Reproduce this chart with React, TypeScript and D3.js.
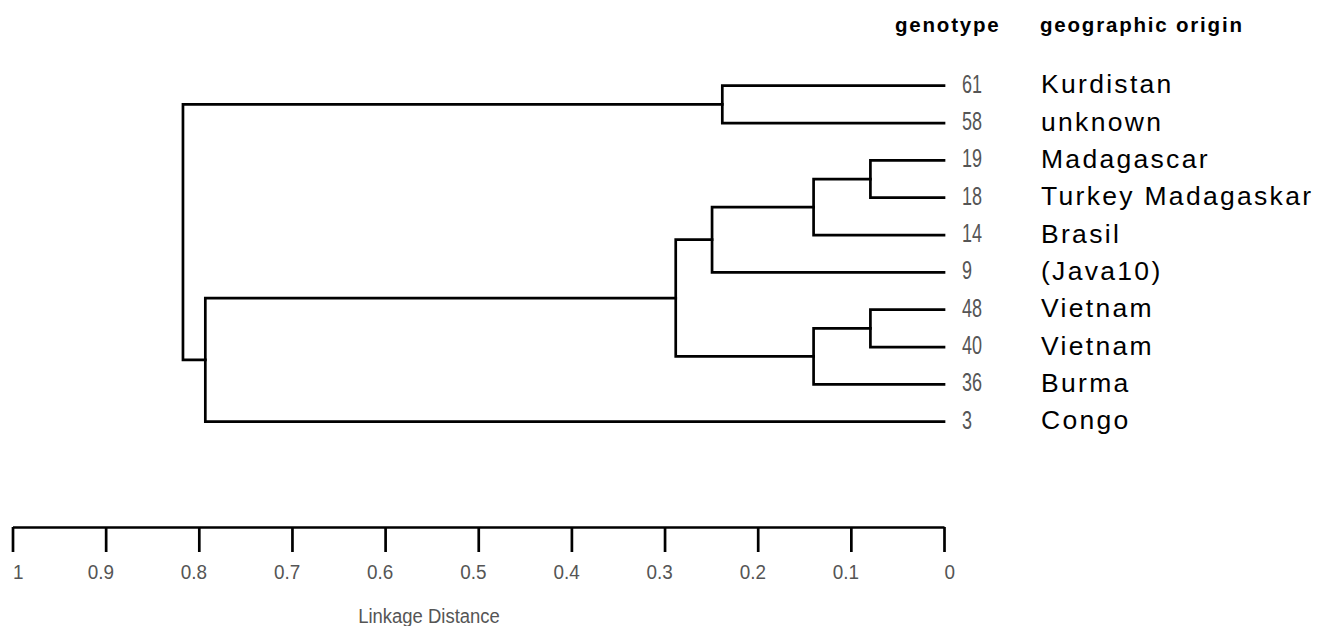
import { useRef, useEffect } from 'react';
import * as d3 from 'd3';

// leaves, top to bottom
const genotypes = ['61', '58', '19', '18', '14', '9', '48', '40', '36', '3'];
const origins = [
  'Kurdistan', 'unknown', 'Madagascar', 'Turkey Madagaskar', 'Brasil',
  '(Java10)', 'Vietnam', 'Vietnam', 'Burma', 'Congo',
];

// linkage table: node 10 + i joins mergeA[i] and mergeB[i] at mergeDist[i]
const mergeA = [2, 6, 10, 11, 0, 12, 15, 16, 14];
const mergeB = [3, 7, 4, 8, 1, 5, 13, 9, 17];
const mergeDist = [0.079, 0.079, 0.14, 0.14, 0.238, 0.249, 0.288, 0.793, 0.817];

const axisTicks = [1, 0.9, 0.8, 0.7, 0.6, 0.5, 0.4, 0.3, 0.2, 0.1, 0];

const SANS = "'Liberation Sans', Arial, sans-serif";

export default function App() {
  const svgRef = useRef<SVGSVGElement>(null);

  useEffect(() => {
    if (!svgRef.current) return;
    const svg = d3.select(svgRef.current);
    svg.selectAll('*').remove();

    const x = d3.scaleLinear().domain([1, 0]).range([12.5, 944]);
    const y = d3.scaleLinear().domain([0, genotypes.length - 1]).range([85.7, 421.7]);

    // node positions
    const nx: number[] = genotypes.map(() => x(0));
    const ny: number[] = genotypes.map((_, i) => y(i));
    mergeA.forEach((a, i) => {
      const b = mergeB[i];
      nx.push(x(mergeDist[i]));
      ny.push((ny[a] + ny[b]) / 2);
    });

    const g = svg.append('g');

    // dendrogram links
    mergeA.forEach((a, i) => {
      const b = mergeB[i];
      const px = nx[genotypes.length + i];
      const p = d3.path();
      p.moveTo(nx[a], ny[a]);
      p.lineTo(px, ny[a]);
      p.lineTo(px, ny[b]);
      p.lineTo(nx[b], ny[b]);
      g.append('path')
        .attr('d', p.toString())
        .attr('fill', 'none')
        .attr('stroke', '#000')
        .attr('stroke-width', 2.7)
        .attr('stroke-linejoin', 'miter')
        .attr('stroke-linecap', 'square');
    });

    // genotype numbers (condensed)
    g.selectAll('text.geno')
      .data(genotypes)
      .join('text')
      .attr('class', 'geno')
      .attr('transform', (_, i) => `translate(962,${y(i) + 7}) scale(0.72,1)`)
      .attr('fill', '#555')
      .attr('font-family', SANS)
      .attr('font-size', 25)
      .text((d) => d);

    // origin labels
    g.selectAll('text.orig')
      .data(origins)
      .join('text')
      .attr('class', 'orig')
      .attr('x', 1041)
      .attr('y', (_, i) => y(i) + 7.5)
      .attr('fill', '#000')
      .attr('font-family', SANS)
      .attr('font-size', 26.5)
      .attr('letter-spacing', 2.3)
      .text((d) => d);

    // headers
    const hdr = [
      { t: 'genotype', x: 895 },
      { t: 'geographic origin', x: 1040 },
    ];
    g.selectAll('text.hdr')
      .data(hdr)
      .join('text')
      .attr('class', 'hdr')
      .attr('x', (d) => d.x)
      .attr('y', 32)
      .attr('font-family', SANS)
      .attr('font-weight', 'bold')
      .attr('font-size', 20.5)
      .attr('letter-spacing', 1.8)
      .text((d) => d.t);

    // bottom axis
    const axisY = 527;
    const ax = g.append('g')
      .attr('transform', `translate(0,${axisY})`)
      .call(
        d3.axisBottom(x)
          .tickValues(axisTicks)
          .tickSize(25)
          .tickSizeOuter(0)
          .tickPadding(12)
          .tickFormat((d) => String(d))
      );
    ax.select('.domain').attr('stroke', '#000').attr('stroke-width', 2.7);
    ax.selectAll('.tick line').attr('stroke', '#000').attr('stroke-width', 2.7);
    ax.selectAll<SVGTextElement, number>('.tick text')
      .attr('fill', '#555')
      .attr('font-family', SANS)
      .attr('font-size', 21)
      .attr('transform', 'scale(0.9,1)')
      .attr('text-anchor', (d) => (d === 0 || d === 1 ? 'start' : 'middle'))
      .attr('dx', (d) => (d === 0 || d === 1 ? 0 : -6));

    g.append('text')
      .attr('transform', 'translate(429,623) scale(0.88,1)')
      .attr('text-anchor', 'middle')
      .attr('fill', '#555')
      .attr('font-family', SANS)
      .attr('font-size', 21)
      .text('Linkage Distance');
  }, []);

  return (
    <svg
      ref={svgRef}
      width={1322}
      height={626}
      style={{ position: 'absolute', left: 0, top: 0, background: '#fff' }}
    />
  );
}
